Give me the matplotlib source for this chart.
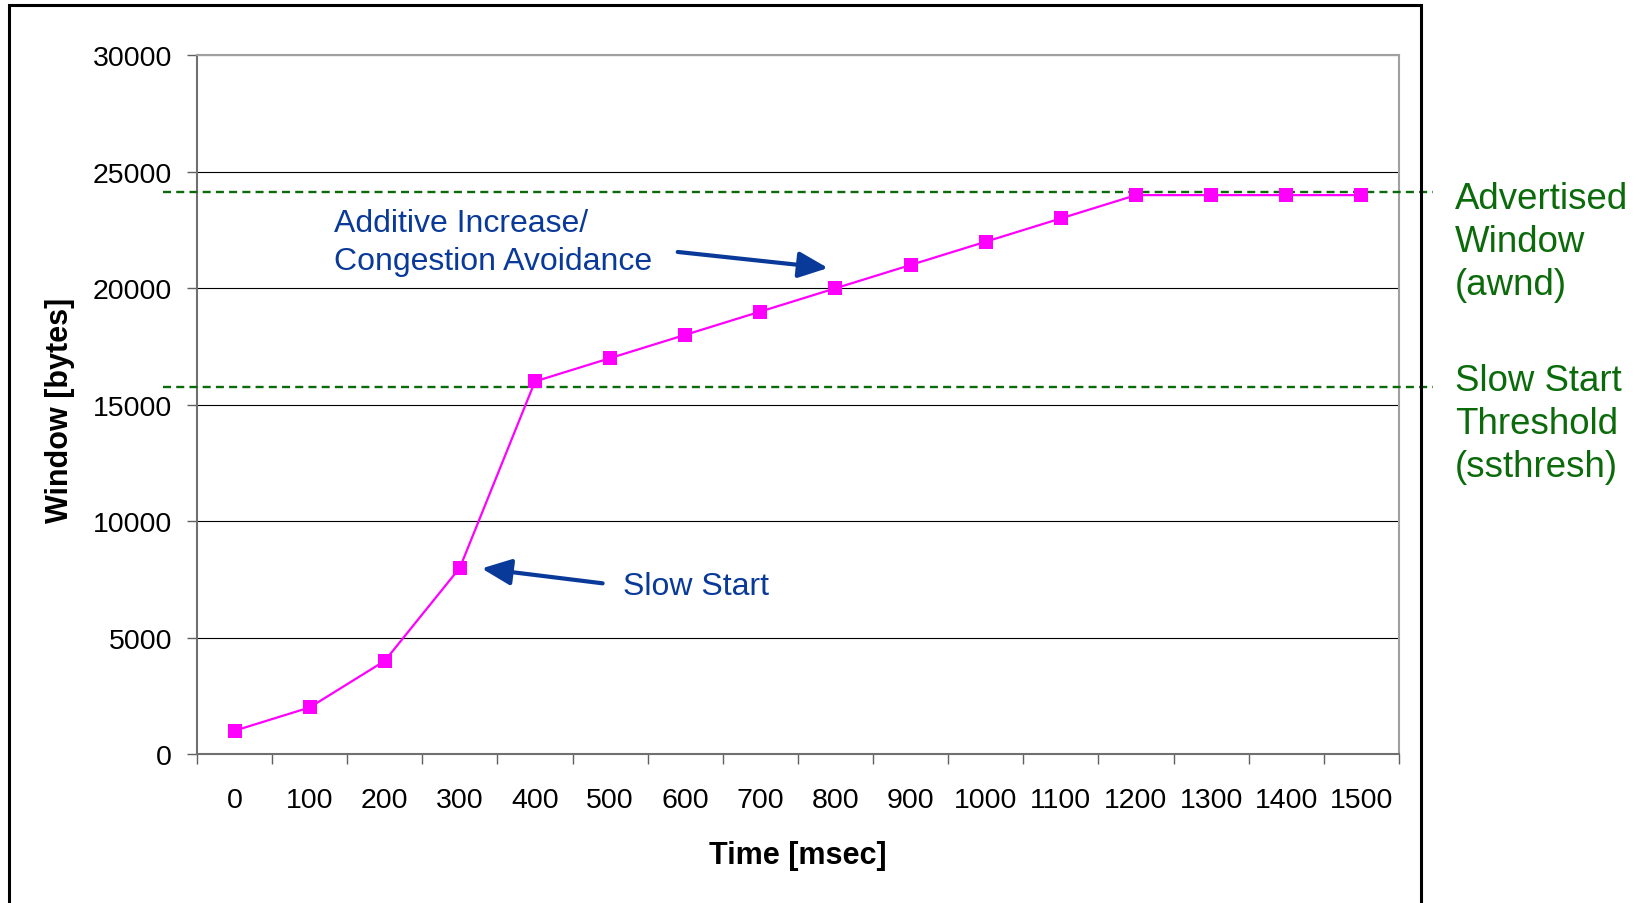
import matplotlib
matplotlib.use("Agg")
import matplotlib.pyplot as plt
from matplotlib.patches import Rectangle

plt.rcParams['font.family'] = ['Liberation Sans', 'DejaVu Sans']

# data
times = [0, 100, 200, 300, 400, 500, 600, 700, 800, 900, 1000, 1100, 1200, 1300, 1400, 1500]
window = [1000, 2000, 4000, 8000, 16000, 17000, 18000, 19000, 20000, 21000,
          22000, 23000, 24000, 24000, 24000, 24000]
awnd = 24150
ssthresh = 15750
y_ticks = [0, 5000, 10000, 15000, 20000, 25000, 30000]

green = '#0b6b0b'
blue = '#0a3a99'

fig = plt.figure(figsize=(16.44, 9.04), dpi=100)
ax = fig.add_axes([0.1198, 0.1648, 0.7311, 0.7728])

x = list(range(len(times)))
ax.plot(x, window, color='#ff00ff', lw=1.6, marker='s', markersize=9.5,
        markeredgewidth=0, zorder=4)

# threshold lines run past the plot area on both sides
for val in (awnd, ssthresh):
    ax.plot([-0.028, 1.028], [val, val], transform=ax.get_yaxis_transform(),
            color=green, lw=1.7, linestyle=(0, (3.4, 2.2)), clip_on=False, zorder=3)

ax.set_xlim(-0.5, len(times) - 0.5)
ax.set_ylim(0, 30000)
ax.set_yticks(y_ticks)
ax.set_yticklabels([str(v) for v in y_ticks])
ax.set_xticks([i - 0.5 for i in range(len(times) + 1)])
ax.set_xticklabels([])
ax.set_xticks(x, minor=True)
ax.set_xticklabels([str(t) for t in times], minor=True)
ax.tick_params(axis='x', which='major', length=7, width=1, color='#606060', direction='out')
ax.tick_params(axis='x', which='minor', length=0, pad=24, labelsize=20.5)
ax.tick_params(axis='y', length=7, width=1, color='#606060', pad=11, labelsize=20.5)

ax.yaxis.grid(True, color='black', lw=0.8)
ax.set_axisbelow(True)
for side in ('left', 'bottom'):
    ax.spines[side].set_color('#707070')
    ax.spines[side].set_linewidth(1.5)
for side in ('top', 'right'):
    ax.spines[side].set_color('#a0a0a0')
    ax.spines[side].set_linewidth(1.5)

ax.set_xlabel('Time [msec]', fontsize=22, fontweight='bold')
ax.set_ylabel('Window [bytes]', fontsize=22, fontweight='bold')
ax.xaxis.set_label_coords(0.5, -0.1446)
ax.xaxis.label.set_va('center')
ax.yaxis.set_label_coords(-0.114, 0.494)
ax.yaxis.label.set_va('center')

# annotations
arrow = dict(arrowstyle='-|>,head_length=0.45,head_width=0.2', lw=3, color=blue,
             mutation_scale=40, shrinkA=0, shrinkB=0)
ax.annotate('', xy=(7.9, 20870), xytext=(5.9, 21560), arrowprops=arrow)
ax.text(1.32, 21990, 'Additive Increase/\nCongestion Avoidance', color=blue,
        fontsize=23, ha='left', va='center', linespacing=1.37)
ax.annotate('', xy=(3.29, 7970), xytext=(4.9, 7330), arrowprops=arrow)
ax.text(5.17, 7200, 'Slow Start', color=blue, fontsize=23, ha='left', va='center')

fig.text(0.885, 0.7987, 'Advertised\nWindow\n(awnd)', color=green, fontsize=26.4,
         ha='left', va='top', linespacing=1.3)
fig.text(0.885, 0.5973, 'Slow Start\nThreshold\n(ssthresh)', color=green, fontsize=26.4,
         ha='left', va='top', linespacing=1.3)

# outer chart frame
fig.add_artist(Rectangle((0.0055, -0.02), 0.8588, 1.0134, transform=fig.transFigure,
                         fill=False, edgecolor='black', lw=2.2))

fig.savefig('out.png', dpi=100)
